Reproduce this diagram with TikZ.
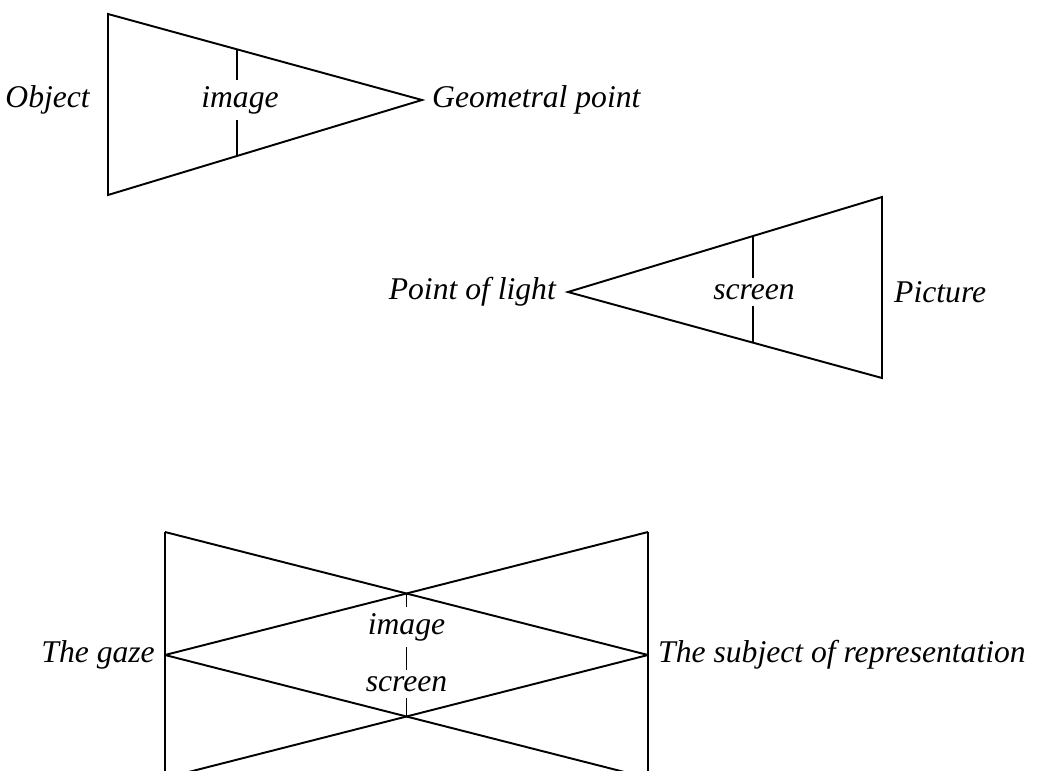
\documentclass[tikz,border=0pt]{standalone}
\usepackage{fontspec}
\setmainfont{Liberation Serif}
\usepackage{tikz}
\usetikzlibrary{positioning}

\begin{document}
\begin{tikzpicture}[x=0.02cm,y=-0.02cm,line width=1.1pt,
	lbl/.style={font=\fontsize{18}{21}\selectfont\itshape,inner sep=3pt}]
	\clip (0,0) rectangle (1049,771);

	% object -> geometral point
	\coordinate (A1) at (108,14);
	\coordinate (A2) at (108,195);
	\coordinate (A3) at (422,100);
	\coordinate (A4) at (237,49);
	\coordinate (A5) at (237,156);
	\node[lbl] (Aimg) at (240,100) {image};
	\node[lbl,anchor=east] (Aobj) at (96,100) {Object};
	\node[lbl,anchor=west] (Ageo) at (426,100) {Geometral point};

	\draw (A1) -- (A2) -- (A3) -- cycle;
	\draw (A4) -- (A4 |- Aimg.north);
	\draw (A5 |- Aimg.south) -- (A5);

	% point of light -> picture
	\coordinate (D1) at (568,292);
	\coordinate (D2) at (882,197);
	\coordinate (D3) at (882,378);
	\coordinate (D4) at (753,236);
	\coordinate (D5) at (753,343);
	\node[lbl] (Dscr) at (754,292) {screen};
	\node[lbl,anchor=east] (Dlight) at (562,292) {Point of light};
	\node[lbl,anchor=west] (Dpic) at (888,292) {Picture};

	\draw (D1) -- (D2) -- (D3) -- cycle;
	\draw (D4) -- (D4 |- Dscr.north);
	\draw (D5 |- Dscr.south) -- (D5);

	% gaze / subject of representation
	\coordinate (B1) at (165,532);
	\coordinate (B2) at (165,655);
	\coordinate (B3) at (165,778);
	\coordinate (C1) at (648,532);
	\coordinate (C2) at (648,655);
	\coordinate (C3) at (648,778);
	\coordinate (X1) at (406.5,593.5);
	\coordinate (X2) at (406.5,716.5);
	\node[lbl] (Bimg) at (406.5,627) {image};
	\node[lbl] (Bscr) at (406.5,684) {screen};
	\node[lbl,anchor=east] (Bgaze) at (161,655) {The gaze};
	\node[lbl,anchor=west] (Csub) at (652,655) {The subject of representation};

	\draw (B1) -- (B3);
	\draw (C1) -- (C3);
	\draw (B1) -- (C2);
	\draw (C1) -- (B2);
	\draw (B2) -- (C3);
	\draw (C2) -- (B3);
	\draw (X1) -- (Bimg);
	\draw (Bimg) -- (Bscr);
	\draw (Bscr) -- (X2);
\end{tikzpicture}
\end{document}
